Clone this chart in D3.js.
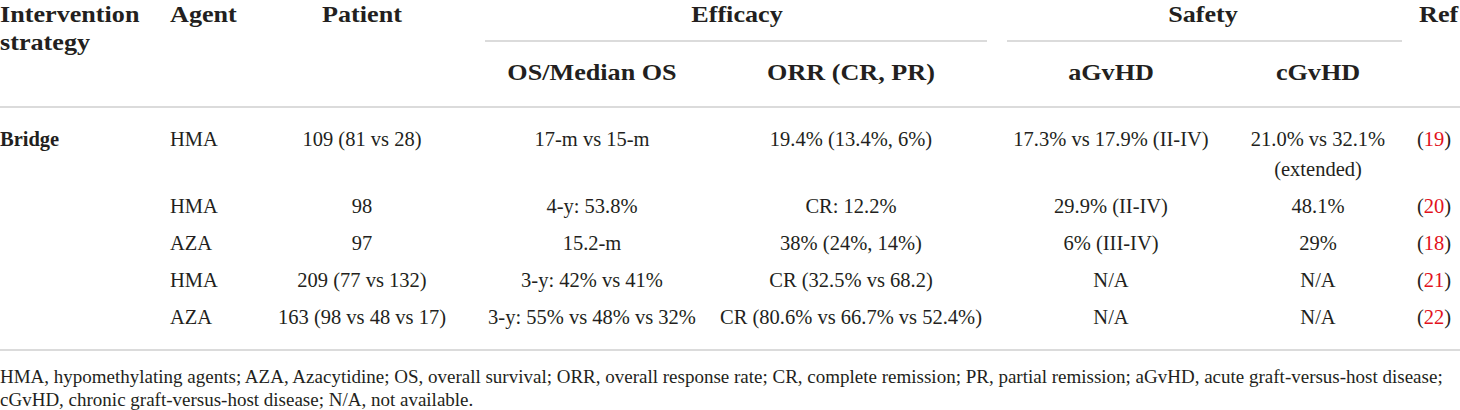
<!DOCTYPE html>
<html>
<head>
<meta charset="utf-8">
<script src="https://cdn.jsdelivr.net/npm/d3@7/dist/d3.min.js"></script>
<style>
  html, body { margin: 0; padding: 0; background: #fff; }
  svg { display: block; }
  text { font-family: "Liberation Serif", "Times New Roman", serif; fill: #231f20; }
</style>
</head>
<body>
<svg id="chart" width="1460" height="410"></svg>
<script>
// ---------- data ----------
const strategies = ["Bridge", "", "", "", ""];
const agents = ["HMA", "HMA", "AZA", "HMA", "AZA"];
const patients = ["109 (81 vs 28)", "98", "97", "209 (77 vs 132)", "163 (98 vs 48 vs 17)"];
const osValues = ["17-m vs 15-m", "4-y: 53.8%", "15.2-m", "3-y: 42% vs 41%", "3-y: 55% vs 48% vs 32%"];
const orrValues = ["19.4% (13.4%, 6%)", "CR: 12.2%", "38% (24%, 14%)", "CR (32.5% vs 68.2)", "CR (80.6% vs 66.7% vs 52.4%)"];
const agvhdValues = ["17.3% vs 17.9% (II-IV)", "29.9% (II-IV)", "6% (III-IV)", "N/A", "N/A"];
const cgvhdValues = [["21.0% vs 32.1%", "(extended)"], ["48.1%"], ["29%"], ["N/A"], ["N/A"]];
const refNumbers = ["19", "20", "18", "21", "22"];
const topHeaders = [["Intervention", "strategy"], ["Agent"], ["Patient"], ["Efficacy"], ["Safety"], ["Ref"]];
const subHeaders = ["OS/Median OS", "ORR (CR, PR)", "aGvHD", "cGvHD"];
const footnoteLines = [
  "HMA, hypomethylating agents; AZA, Azacytidine; OS, overall survival; ORR, overall response rate; CR, complete remission; PR, partial remission; aGvHD, acute graft-versus-host disease;",
  "cGvHD, chronic graft-versus-host disease; N/A, not available."
];

// ---------- layout ----------
const svg = d3.select("#chart");
const W = 1460;
const lineColor = "#cfcfcf";
const bodySize = 20.5;
const headSize = 24;
const headStretch = 1.09;
const footSize = 19;

const rows = d3.range(agents.length).map(i => ({
  strategy: strategies[i],
  agent: agents[i],
  patient: patients[i],
  os: osValues[i],
  orr: orrValues[i],
  agvhd: agvhdValues[i],
  cgvhd: cgvhdValues[i],
  ref: refNumbers[i]
}));

// row baselines from cumulative line counts
const rowPitch = 37, wrapPitch = 30;
let acc = 145.5;
const rowY = rows.map(r => { const y = acc; acc += rowPitch + (r.cgvhd.length - 1) * wrapPitch; return y; });

// column x positions
const col = {
  strategy: { x: 0, anchor: "start" },
  agent: { x: 170, anchor: "start" },
  patient: { x: 362, anchor: "middle" },
  os: { x: 592, anchor: "middle" },
  orr: { x: 851, anchor: "middle" },
  agvhd: { x: 1111, anchor: "middle" },
  cgvhd: { x: 1318, anchor: "middle" },
  ref: { x: 1434, anchor: "middle" }
};

// ---------- rules ----------
const rules = [
  { x1: 485, x2: 987, y: 41 },
  { x1: 1007, x2: 1402, y: 41 },
  { x1: 0, x2: W, y: 107 },
  { x1: 0, x2: W, y: 350 }
];
svg.selectAll("line.rule").data(rules).join("line")
  .attr("class", "rule")
  .attr("x1", d => d.x1).attr("x2", d => d.x2)
  .attr("y1", d => d.y).attr("y2", d => d.y)
  .attr("stroke", lineColor).attr("stroke-width", 1.6);

// ---------- headers ----------
const topPos = [
  { x: 0, anchor: "start" },
  { x: 170, anchor: "start" },
  { x: 362, anchor: "middle" },
  { x: 737, anchor: "middle" },
  { x: 1203, anchor: "middle" },
  { x: 1419, anchor: "start" }
];
const th = svg.selectAll("text.th").data(topHeaders).join("text")
  .attr("class", "th")
  .attr("transform", (d, i) => `translate(${topPos[i].x},21.5) scale(${headStretch},1)`)
  .attr("text-anchor", (d, i) => topPos[i].anchor)
  .attr("font-weight", "bold")
  .attr("font-size", headSize);
th.selectAll("tspan").data(d => d).join("tspan")
  .attr("x", 0)
  .attr("dy", (d, i) => i === 0 ? 0 : 28.5)
  .text(d => d);

const subX = [col.os.x, col.orr.x, col.agvhd.x, col.cgvhd.x];
svg.selectAll("text.sh").data(subHeaders).join("text")
  .attr("class", "sh")
  .attr("transform", (d, i) => `translate(${subX[i]},80) scale(${headStretch},1)`)
  .attr("text-anchor", "middle")
  .attr("font-weight", "bold")
  .attr("font-size", headSize)
  .text(d => d);

// ---------- body ----------
const g = svg.selectAll("g.row").data(rows).join("g")
  .attr("class", "row")
  .attr("transform", (d, i) => `translate(0,${rowY[i]})`);

["strategy", "agent", "patient", "os", "orr", "agvhd"].forEach(key => {
  g.append("text")
    .attr("x", col[key].x)
    .attr("text-anchor", col[key].anchor)
    .attr("font-size", bodySize)
    .attr("font-weight", key === "strategy" ? "bold" : null)
    .text(d => d[key]);
});

g.append("text")
  .attr("x", col.cgvhd.x)
  .attr("text-anchor", "middle")
  .attr("font-size", bodySize)
  .selectAll("tspan").data(d => d.cgvhd).join("tspan")
  .attr("x", col.cgvhd.x)
  .attr("dy", (d, i) => i === 0 ? 0 : wrapPitch)
  .text(d => d);

const refText = g.append("text")
  .attr("x", col.ref.x)
  .attr("text-anchor", "middle")
  .attr("font-size", bodySize);
refText.append("tspan").text("(");
refText.append("tspan").style("fill", "#e2121c").text(d => d.ref);
refText.append("tspan").text(")");

// ---------- footnote ----------
svg.selectAll("text.fn").data(footnoteLines).join("text")
  .attr("class", "fn")
  .attr("x", 0)
  .attr("y", (d, i) => 383 + i * 22.5)
  .attr("font-size", footSize)
  .text(d => d);
</script>
</body>
</html>
